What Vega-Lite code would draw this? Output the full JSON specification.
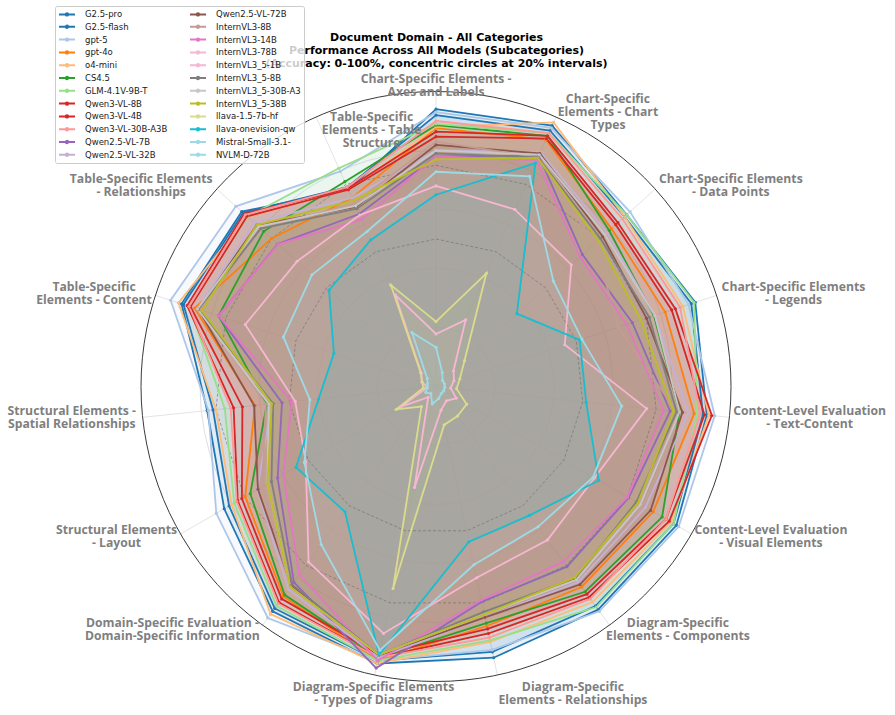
{
  "$schema": "https://vega.github.io/schema/vega-lite/v6.json",
  "width": 895,
  "height": 715,
  "autosize": {"type": "none"},
  "padding": 0,
  "background": "white",
  "config": {"view": {"stroke": null}},
  "title": {
    "text": ["Document Domain - All Categories", "Performance Across All Models (Subcategories)", "(Accuracy: 0-100%, concentric circles at 20% intervals)"],
    "font": "DejaVu Sans",
    "fontSize": 11,
    "fontWeight": "bold",
    "color": "#000000",
    "lineHeight": 13,
    "anchor": "middle",
    "frame": "group",
    "offset": -69,
    "dx": -11
  },
  "datasets": {
    "categories": [
      {"k": 0, "label": "Chart-Specific Elements -\nAxes and Labels"},
      {"k": 1, "label": "Chart-Specific\nElements - Chart\nTypes"},
      {"k": 2, "label": "Chart-Specific Elements\n- Data Points"},
      {"k": 3, "label": "Chart-Specific Elements\n- Legends"},
      {"k": 4, "label": "Content-Level Evaluation\n- Text-Content"},
      {"k": 5, "label": "Content-Level Evaluation\n- Visual Elements"},
      {"k": 6, "label": "Diagram-Specific\nElements - Components"},
      {"k": 7, "label": "Diagram-Specific\nElements - Relationships"},
      {"k": 8, "label": "Diagram-Specific Elements\n- Types of Diagrams"},
      {"k": 9, "label": "Domain-Specific Evaluation -\nDomain-Specific Information"},
      {"k": 10, "label": "Structural Elements\n- Layout"},
      {"k": 11, "label": "Structural Elements -\nSpatial Relationships"},
      {"k": 12, "label": "Table-Specific\nElements - Content"},
      {"k": 13, "label": "Table-Specific Elements\n- Relationships"},
      {"k": 14, "label": "Table-Specific\nElements - Table\nStructure"}
    ],
    "rings": [{"level": 20}, {"level": 40}, {"level": 60}, {"level": 80}, {"level": 100}],
    "refs": [
      {"level": 50, "k": 0}, {"level": 50, "k": 1}, {"level": 50, "k": 2}, {"level": 50, "k": 3}, {"level": 50, "k": 4},
      {"level": 50, "k": 5}, {"level": 50, "k": 6}, {"level": 50, "k": 7}, {"level": 50, "k": 8}, {"level": 50, "k": 9},
      {"level": 50, "k": 10}, {"level": 50, "k": 11}, {"level": 50, "k": 12}, {"level": 50, "k": 13}, {"level": 50, "k": 14},
      {"level": 75, "k": 0}, {"level": 75, "k": 1}, {"level": 75, "k": 2}, {"level": 75, "k": 3}, {"level": 75, "k": 4},
      {"level": 75, "k": 5}, {"level": 75, "k": 6}, {"level": 75, "k": 7}, {"level": 75, "k": 8}, {"level": 75, "k": 9},
      {"level": 75, "k": 10}, {"level": 75, "k": 11}, {"level": 75, "k": 12}, {"level": 75, "k": 13}, {"level": 75, "k": 14}
    ],
    "scores": [
      {"model":"G2.5-pro","k":0,"score":94},{"model":"G2.5-pro","k":1,"score":96.8},{"model":"G2.5-pro","k":2,"score":87},{"model":"G2.5-pro","k":3,"score":92.4},{"model":"G2.5-pro","k":4,"score":92.3},{"model":"G2.5-pro","k":5,"score":94.1},{"model":"G2.5-pro","k":6,"score":93.5},{"model":"G2.5-pro","k":7,"score":94},{"model":"G2.5-pro","k":8,"score":96},{"model":"G2.5-pro","k":9,"score":94.2},{"model":"G2.5-pro","k":10,"score":82.9},{"model":"G2.5-pro","k":11,"score":78},{"model":"G2.5-pro","k":12,"score":90.7},{"model":"G2.5-pro","k":13,"score":88.6},{"model":"G2.5-pro","k":14,"score":73},
      {"model":"G2.5-flash","k":0,"score":92},{"model":"G2.5-flash","k":1,"score":95},{"model":"G2.5-flash","k":2,"score":86},{"model":"G2.5-flash","k":3,"score":91},{"model":"G2.5-flash","k":4,"score":91},{"model":"G2.5-flash","k":5,"score":93},{"model":"G2.5-flash","k":6,"score":92},{"model":"G2.5-flash","k":7,"score":92},{"model":"G2.5-flash","k":8,"score":95},{"model":"G2.5-flash","k":9,"score":93},{"model":"G2.5-flash","k":10,"score":81},{"model":"G2.5-flash","k":11,"score":76},{"model":"G2.5-flash","k":12,"score":90},{"model":"G2.5-flash","k":13,"score":88},{"model":"G2.5-flash","k":14,"score":74},
      {"model":"gpt-5","k":0,"score":93},{"model":"gpt-5","k":1,"score":96},{"model":"gpt-5","k":2,"score":88.5},{"model":"gpt-5","k":3,"score":90},{"model":"gpt-5","k":4,"score":95},{"model":"gpt-5","k":5,"score":95},{"model":"gpt-5","k":6,"score":94.2},{"model":"gpt-5","k":7,"score":91.3},{"model":"gpt-5","k":8,"score":95},{"model":"gpt-5","k":9,"score":97},{"model":"gpt-5","k":10,"score":86},{"model":"gpt-5","k":11,"score":77.6},{"model":"gpt-5","k":12,"score":94.6},{"model":"gpt-5","k":13,"score":91.3},{"model":"gpt-5","k":14,"score":79.8},
      {"model":"gpt-4o","k":0,"score":87.6},{"model":"gpt-4o","k":1,"score":91.6},{"model":"gpt-4o","k":2,"score":80},{"model":"gpt-4o","k":3,"score":81.7},{"model":"gpt-4o","k":4,"score":88},{"model":"gpt-4o","k":5,"score":85},{"model":"gpt-4o","k":6,"score":84},{"model":"gpt-4o","k":7,"score":83},{"model":"gpt-4o","k":8,"score":95},{"model":"gpt-4o","k":9,"score":88},{"model":"gpt-4o","k":10,"score":74.7},{"model":"gpt-4o","k":11,"score":61.7},{"model":"gpt-4o","k":12,"score":86},{"model":"gpt-4o","k":13,"score":75},{"model":"gpt-4o","k":14,"score":70},
      {"model":"o4-mini","k":0,"score":88},{"model":"o4-mini","k":1,"score":98},{"model":"o4-mini","k":2,"score":86},{"model":"o4-mini","k":3,"score":88},{"model":"o4-mini","k":4,"score":93},{"model":"o4-mini","k":5,"score":92},{"model":"o4-mini","k":6,"score":90.3},{"model":"o4-mini","k":7,"score":88.5},{"model":"o4-mini","k":8,"score":96},{"model":"o4-mini","k":9,"score":95.4},{"model":"o4-mini","k":10,"score":80},{"model":"o4-mini","k":11,"score":75},{"model":"o4-mini","k":12,"score":91.8},{"model":"o4-mini","k":13,"score":86},{"model":"o4-mini","k":14,"score":73},
      {"model":"CS4.5","k":0,"score":88.6},{"model":"CS4.5","k":1,"score":93},{"model":"CS4.5","k":2,"score":79},{"model":"CS4.5","k":3,"score":77.7},{"model":"CS4.5","k":4,"score":83},{"model":"CS4.5","k":5,"score":88.5},{"model":"CS4.5","k":6,"score":86},{"model":"CS4.5","k":7,"score":82},{"model":"CS4.5","k":8,"score":94},{"model":"CS4.5","k":9,"score":87.3},{"model":"CS4.5","k":10,"score":72.7},{"model":"CS4.5","k":11,"score":57.7},{"model":"CS4.5","k":12,"score":77.5},{"model":"CS4.5","k":13,"score":78.6},{"model":"CS4.5","k":14,"score":76},
      {"model":"GLM-4.1V-9B-T","k":0,"score":89},{"model":"GLM-4.1V-9B-T","k":1,"score":94},{"model":"GLM-4.1V-9B-T","k":2,"score":87},{"model":"GLM-4.1V-9B-T","k":3,"score":92},{"model":"GLM-4.1V-9B-T","k":4,"score":89},{"model":"GLM-4.1V-9B-T","k":5,"score":93},{"model":"GLM-4.1V-9B-T","k":6,"score":92.4},{"model":"GLM-4.1V-9B-T","k":7,"score":88},{"model":"GLM-4.1V-9B-T","k":8,"score":95},{"model":"GLM-4.1V-9B-T","k":9,"score":92},{"model":"GLM-4.1V-9B-T","k":10,"score":79},{"model":"GLM-4.1V-9B-T","k":11,"score":72},{"model":"GLM-4.1V-9B-T","k":12,"score":88},{"model":"GLM-4.1V-9B-T","k":13,"score":86},{"model":"GLM-4.1V-9B-T","k":14,"score":81},
      {"model":"Qwen3-VL-8B","k":0,"score":86.4},{"model":"Qwen3-VL-8B","k":1,"score":93},{"model":"Qwen3-VL-8B","k":2,"score":83},{"model":"Qwen3-VL-8B","k":3,"score":85.3},{"model":"Qwen3-VL-8B","k":4,"score":94},{"model":"Qwen3-VL-8B","k":5,"score":91.3},{"model":"Qwen3-VL-8B","k":6,"score":88.3},{"model":"Qwen3-VL-8B","k":7,"score":85.6},{"model":"Qwen3-VL-8B","k":8,"score":94},{"model":"Qwen3-VL-8B","k":9,"score":90.5},{"model":"Qwen3-VL-8B","k":10,"score":77.6},{"model":"Qwen3-VL-8B","k":11,"score":69},{"model":"Qwen3-VL-8B","k":12,"score":88.7},{"model":"Qwen3-VL-8B","k":13,"score":87.5},{"model":"Qwen3-VL-8B","k":14,"score":73.5},
      {"model":"Qwen3-VL-4B","k":0,"score":84.7},{"model":"Qwen3-VL-4B","k":1,"score":92},{"model":"Qwen3-VL-4B","k":2,"score":82},{"model":"Qwen3-VL-4B","k":3,"score":84},{"model":"Qwen3-VL-4B","k":4,"score":91.5},{"model":"Qwen3-VL-4B","k":5,"score":90},{"model":"Qwen3-VL-4B","k":6,"score":87},{"model":"Qwen3-VL-4B","k":7,"score":84},{"model":"Qwen3-VL-4B","k":8,"score":93},{"model":"Qwen3-VL-4B","k":9,"score":89},{"model":"Qwen3-VL-4B","k":10,"score":76},{"model":"Qwen3-VL-4B","k":11,"score":66},{"model":"Qwen3-VL-4B","k":12,"score":87.5},{"model":"Qwen3-VL-4B","k":13,"score":86.2},{"model":"Qwen3-VL-4B","k":14,"score":73},
      {"model":"Qwen3-VL-30B-A3B","k":0,"score":90},{"model":"Qwen3-VL-30B-A3B","k":1,"score":94},{"model":"Qwen3-VL-30B-A3B","k":2,"score":85},{"model":"Qwen3-VL-30B-A3B","k":3,"score":87},{"model":"Qwen3-VL-30B-A3B","k":4,"score":90},{"model":"Qwen3-VL-30B-A3B","k":5,"score":90},{"model":"Qwen3-VL-30B-A3B","k":6,"score":89},{"model":"Qwen3-VL-30B-A3B","k":7,"score":87},{"model":"Qwen3-VL-30B-A3B","k":8,"score":94},{"model":"Qwen3-VL-30B-A3B","k":9,"score":91},{"model":"Qwen3-VL-30B-A3B","k":10,"score":78},{"model":"Qwen3-VL-30B-A3B","k":11,"score":70},{"model":"Qwen3-VL-30B-A3B","k":12,"score":88},{"model":"Qwen3-VL-30B-A3B","k":13,"score":87},{"model":"Qwen3-VL-30B-A3B","k":14,"score":74},
      {"model":"Qwen2.5-VL-7B","k":0,"score":78},{"model":"Qwen2.5-VL-7B","k":1,"score":85.7},{"model":"Qwen2.5-VL-7B","k":2,"score":66.8},{"model":"Qwen2.5-VL-7B","k":3,"score":70},{"model":"Qwen2.5-VL-7B","k":4,"score":79.8},{"model":"Qwen2.5-VL-7B","k":5,"score":75.4},{"model":"Qwen2.5-VL-7B","k":6,"score":75.5},{"model":"Qwen2.5-VL-7B","k":7,"score":74.6},{"model":"Qwen2.5-VL-7B","k":8,"score":97.6},{"model":"Qwen2.5-VL-7B","k":9,"score":82},{"model":"Qwen2.5-VL-7B","k":10,"score":62},{"model":"Qwen2.5-VL-7B","k":11,"score":52.5},{"model":"Qwen2.5-VL-7B","k":12,"score":77.5},{"model":"Qwen2.5-VL-7B","k":13,"score":72.2},{"model":"Qwen2.5-VL-7B","k":14,"score":64},
      {"model":"Qwen2.5-VL-32B","k":0,"score":80},{"model":"Qwen2.5-VL-32B","k":1,"score":87},{"model":"Qwen2.5-VL-32B","k":2,"score":78},{"model":"Qwen2.5-VL-32B","k":3,"score":78},{"model":"Qwen2.5-VL-32B","k":4,"score":86},{"model":"Qwen2.5-VL-32B","k":5,"score":82},{"model":"Qwen2.5-VL-32B","k":6,"score":82},{"model":"Qwen2.5-VL-32B","k":7,"score":80},{"model":"Qwen2.5-VL-32B","k":8,"score":94},{"model":"Qwen2.5-VL-32B","k":9,"score":85},{"model":"Qwen2.5-VL-32B","k":10,"score":70},{"model":"Qwen2.5-VL-32B","k":11,"score":56},{"model":"Qwen2.5-VL-32B","k":12,"score":85},{"model":"Qwen2.5-VL-32B","k":13,"score":83},{"model":"Qwen2.5-VL-32B","k":14,"score":70},
      {"model":"Qwen2.5-VL-72B","k":0,"score":81.9},{"model":"Qwen2.5-VL-72B","k":1,"score":86.5},{"model":"Qwen2.5-VL-72B","k":2,"score":76},{"model":"Qwen2.5-VL-72B","k":3,"score":75},{"model":"Qwen2.5-VL-72B","k":4,"score":84},{"model":"Qwen2.5-VL-72B","k":5,"score":84},{"model":"Qwen2.5-VL-72B","k":6,"score":83},{"model":"Qwen2.5-VL-72B","k":7,"score":80},{"model":"Qwen2.5-VL-72B","k":8,"score":93},{"model":"Qwen2.5-VL-72B","k":9,"score":83.5},{"model":"Qwen2.5-VL-72B","k":10,"score":69.7},{"model":"Qwen2.5-VL-72B","k":11,"score":62},{"model":"Qwen2.5-VL-72B","k":12,"score":84.7},{"model":"Qwen2.5-VL-72B","k":13,"score":81.8},{"model":"Qwen2.5-VL-72B","k":14,"score":66.6},
      {"model":"InternVL3-8B","k":0,"score":83},{"model":"InternVL3-8B","k":1,"score":85},{"model":"InternVL3-8B","k":2,"score":72.5},{"model":"InternVL3-8B","k":3,"score":65},{"model":"InternVL3-8B","k":4,"score":82},{"model":"InternVL3-8B","k":5,"score":80},{"model":"InternVL3-8B","k":6,"score":79},{"model":"InternVL3-8B","k":7,"score":79},{"model":"InternVL3-8B","k":8,"score":93},{"model":"InternVL3-8B","k":9,"score":84},{"model":"InternVL3-8B","k":10,"score":68},{"model":"InternVL3-8B","k":11,"score":58},{"model":"InternVL3-8B","k":12,"score":84},{"model":"InternVL3-8B","k":13,"score":80},{"model":"InternVL3-8B","k":14,"score":68},
      {"model":"InternVL3-14B","k":0,"score":78},{"model":"InternVL3-14B","k":1,"score":84},{"model":"InternVL3-14B","k":2,"score":65.7},{"model":"InternVL3-14B","k":3,"score":68},{"model":"InternVL3-14B","k":4,"score":77.6},{"model":"InternVL3-14B","k":5,"score":75},{"model":"InternVL3-14B","k":6,"score":73.4},{"model":"InternVL3-14B","k":7,"score":74},{"model":"InternVL3-14B","k":8,"score":95},{"model":"InternVL3-14B","k":9,"score":78.8},{"model":"InternVL3-14B","k":10,"score":59.8},{"model":"InternVL3-14B","k":11,"score":49.2},{"model":"InternVL3-14B","k":12,"score":77.5},{"model":"InternVL3-14B","k":13,"score":72},{"model":"InternVL3-14B","k":14,"score":62},
      {"model":"InternVL3-78B","k":0,"score":68},{"model":"InternVL3-78B","k":1,"score":65.7},{"model":"InternVL3-78B","k":2,"score":61.7},{"model":"InternVL3-78B","k":3,"score":45.9},{"model":"InternVL3-78B","k":4,"score":71.8},{"model":"InternVL3-78B","k":5,"score":62},{"model":"InternVL3-78B","k":6,"score":64.3},{"model":"InternVL3-78B","k":7,"score":66.3},{"model":"InternVL3-78B","k":8,"score":85.6},{"model":"InternVL3-78B","k":9,"score":73.5},{"model":"InternVL3-78B","k":10,"score":51},{"model":"InternVL3-78B","k":11,"score":48},{"model":"InternVL3-78B","k":12,"score":68},{"model":"InternVL3-78B","k":13,"score":63.4},{"model":"InternVL3-78B","k":14,"score":63.6},
      {"model":"InternVL3_5-1B","k":0,"score":17.8},{"model":"InternVL3_5-1B","k":1,"score":24.7},{"model":"InternVL3_5-1B","k":2,"score":8},{"model":"InternVL3_5-1B","k":3,"score":6.4},{"model":"InternVL3_5-1B","k":4,"score":5},{"model":"InternVL3_5-1B","k":5,"score":7.9},{"model":"InternVL3_5-1B","k":6,"score":6},{"model":"InternVL3_5-1B","k":7,"score":8.2},{"model":"InternVL3_5-1B","k":8,"score":35},{"model":"InternVL3_5-1B","k":9,"score":4.5},{"model":"InternVL3_5-1B","k":10,"score":13.7},{"model":"InternVL3_5-1B","k":11,"score":3},{"model":"InternVL3_5-1B","k":12,"score":5},{"model":"InternVL3_5-1B","k":13,"score":6.7},{"model":"InternVL3_5-1B","k":14,"score":34},
      {"model":"InternVL3_5-8B","k":0,"score":79},{"model":"InternVL3_5-8B","k":1,"score":85},{"model":"InternVL3_5-8B","k":2,"score":75},{"model":"InternVL3_5-8B","k":3,"score":76},{"model":"InternVL3_5-8B","k":4,"score":82},{"model":"InternVL3_5-8B","k":5,"score":78.4},{"model":"InternVL3_5-8B","k":6,"score":80.3},{"model":"InternVL3_5-8B","k":7,"score":78.1},{"model":"InternVL3_5-8B","k":8,"score":93},{"model":"InternVL3_5-8B","k":9,"score":83},{"model":"InternVL3_5-8B","k":10,"score":64.4},{"model":"InternVL3_5-8B","k":11,"score":55.5},{"model":"InternVL3_5-8B","k":12,"score":84.7},{"model":"InternVL3_5-8B","k":13,"score":80},{"model":"InternVL3_5-8B","k":14,"score":66},
      {"model":"InternVL3_5-30B-A3","k":0,"score":80},{"model":"InternVL3_5-30B-A3","k":1,"score":86},{"model":"InternVL3_5-30B-A3","k":2,"score":77},{"model":"InternVL3_5-30B-A3","k":3,"score":78},{"model":"InternVL3_5-30B-A3","k":4,"score":83},{"model":"InternVL3_5-30B-A3","k":5,"score":80},{"model":"InternVL3_5-30B-A3","k":6,"score":81},{"model":"InternVL3_5-30B-A3","k":7,"score":79},{"model":"InternVL3_5-30B-A3","k":8,"score":93},{"model":"InternVL3_5-30B-A3","k":9,"score":84},{"model":"InternVL3_5-30B-A3","k":10,"score":66},{"model":"InternVL3_5-30B-A3","k":11,"score":57},{"model":"InternVL3_5-30B-A3","k":12,"score":85},{"model":"InternVL3_5-30B-A3","k":13,"score":81},{"model":"InternVL3_5-30B-A3","k":14,"score":67},
      {"model":"InternVL3_5-38B","k":0,"score":77},{"model":"InternVL3_5-38B","k":1,"score":84.8},{"model":"InternVL3_5-38B","k":2,"score":74},{"model":"InternVL3_5-38B","k":3,"score":73},{"model":"InternVL3_5-38B","k":4,"score":81},{"model":"InternVL3_5-38B","k":5,"score":79},{"model":"InternVL3_5-38B","k":6,"score":80},{"model":"InternVL3_5-38B","k":7,"score":79},{"model":"InternVL3_5-38B","k":8,"score":93},{"model":"InternVL3_5-38B","k":9,"score":84},{"model":"InternVL3_5-38B","k":10,"score":66},{"model":"InternVL3_5-38B","k":11,"score":56},{"model":"InternVL3_5-38B","k":12,"score":83.4},{"model":"InternVL3_5-38B","k":13,"score":81.8},{"model":"InternVL3_5-38B","k":14,"score":69},
      {"model":"llava-1.5-7b-hf","k":0,"score":22},{"model":"llava-1.5-7b-hf","k":1,"score":42},{"model":"llava-1.5-7b-hf","k":2,"score":13},{"model":"llava-1.5-7b-hf","k":3,"score":8.5},{"model":"llava-1.5-7b-hf","k":4,"score":7},{"model":"llava-1.5-7b-hf","k":5,"score":12},{"model":"llava-1.5-7b-hf","k":6,"score":12.4},{"model":"llava-1.5-7b-hf","k":7,"score":13.3},{"model":"llava-1.5-7b-hf","k":8,"score":70},{"model":"llava-1.5-7b-hf","k":9,"score":8.4},{"model":"llava-1.5-7b-hf","k":10,"score":15.5},{"model":"llava-1.5-7b-hf","k":11,"score":4.3},{"model":"llava-1.5-7b-hf","k":12,"score":5},{"model":"llava-1.5-7b-hf","k":13,"score":7},{"model":"llava-1.5-7b-hf","k":14,"score":37.6},
      {"model":"llava-onevision-qw","k":0,"score":65},{"model":"llava-onevision-qw","k":1,"score":82.9},{"model":"llava-onevision-qw","k":2,"score":36.9},{"model":"llava-onevision-qw","k":3,"score":51.2},{"model":"llava-onevision-qw","k":4,"score":51.2},{"model":"llava-onevision-qw","k":5,"score":63.7},{"model":"llava-onevision-qw","k":6,"score":54},{"model":"llava-onevision-qw","k":7,"score":53.8},{"model":"llava-onevision-qw","k":8,"score":93},{"model":"llava-onevision-qw","k":9,"score":52.5},{"model":"llava-onevision-qw","k":10,"score":54.8},{"model":"llava-onevision-qw","k":11,"score":40},{"model":"llava-onevision-qw","k":12,"score":36.4},{"model":"llava-onevision-qw","k":13,"score":48.8},{"model":"llava-onevision-qw","k":14,"score":54.4},
      {"model":"Mistral-Small-3.1-","k":0,"score":72.8},{"model":"Mistral-Small-3.1-","k":1,"score":78},{"model":"Mistral-Small-3.1-","k":2,"score":53.5},{"model":"Mistral-Small-3.1-","k":3,"score":52},{"model":"Mistral-Small-3.1-","k":4,"score":63.3},{"model":"Mistral-Small-3.1-","k":5,"score":61.5},{"model":"Mistral-Small-3.1-","k":6,"score":58.8},{"model":"Mistral-Small-3.1-","k":7,"score":61.8},{"model":"Mistral-Small-3.1-","k":8,"score":91.4},{"model":"Mistral-Small-3.1-","k":9,"score":66.2},{"model":"Mistral-Small-3.1-","k":10,"score":51.5},{"model":"Mistral-Small-3.1-","k":11,"score":43},{"model":"Mistral-Small-3.1-","k":12,"score":54.4},{"model":"Mistral-Small-3.1-","k":13,"score":56.6},{"model":"Mistral-Small-3.1-","k":14,"score":57.5},
      {"model":"NVLM-D-72B","k":0,"score":13.3},{"model":"NVLM-D-72B","k":1,"score":5.2},{"model":"NVLM-D-72B","k":2,"score":3},{"model":"NVLM-D-72B","k":3,"score":3},{"model":"NVLM-D-72B","k":4,"score":3},{"model":"NVLM-D-72B","k":5,"score":3},{"model":"NVLM-D-72B","k":6,"score":3},{"model":"NVLM-D-72B","k":7,"score":4.2},{"model":"NVLM-D-72B","k":8,"score":6},{"model":"NVLM-D-72B","k":9,"score":3},{"model":"NVLM-D-72B","k":10,"score":4},{"model":"NVLM-D-72B","k":11,"score":3},{"model":"NVLM-D-72B","k":12,"score":3},{"model":"NVLM-D-72B","k":13,"score":4},{"model":"NVLM-D-72B","k":14,"score":20}
    ]
  },
  "layer": [
    {
      "data": {"name": "rings"},
      "transform": [{"filter": "datum.level < 100"}, {"calculate": "0", "as": "o"}],
      "mark": {"type": "point", "shape": "circle", "filled": false, "stroke": "#d6d6d6", "strokeWidth": 0.8, "opacity": 1},
      "encoding": {
        "x": {"field": "o", "type": "quantitative", "scale": {"domain": [-1.478, 1.5559], "nice": false, "zero": false}, "axis": null},
        "y": {"field": "o", "type": "quantitative", "scale": {"domain": [-1.1136, 1.3102], "nice": false, "zero": false}, "axis": null},
        "size": {"field": "level", "type": "quantitative", "legend": null, "scale": {"type": "pow", "exponent": 2, "domain": [0, 100], "range": [0, 348100]}}
      }
    },
    {
      "data": {"name": "categories"},
      "transform": [
        {"calculate": "0", "as": "o"},
        {"calculate": "2 * PI * datum.k / 15", "as": "t"},
        {"calculate": "sin(datum.t)", "as": "sx"},
        {"calculate": "cos(datum.t)", "as": "sy"}
      ],
      "mark": {"type": "rule", "stroke": "#dcdcdc", "strokeWidth": 0.8},
      "encoding": {
        "x": {"field": "o", "type": "quantitative", "scale": {"domain": [-1.478, 1.5559], "nice": false, "zero": false}, "axis": null},
        "y": {"field": "o", "type": "quantitative", "scale": {"domain": [-1.1136, 1.3102], "nice": false, "zero": false}, "axis": null},
        "x2": {"field": "sx"},
        "y2": {"field": "sy"}
      }
    },
    {
      "data": {"name": "scores"},
      "transform": [
        {"calculate": "2 * PI * datum.k / 15", "as": "t"},
        {"calculate": "datum.score / 100 * sin(datum.t)", "as": "px"},
        {"calculate": "datum.score / 100 * cos(datum.t)", "as": "py"}
      ],
      "mark": {"type": "line", "interpolate": "linear-closed", "strokeOpacity": 0, "fillOpacity": 0.1},
      "encoding": {
        "x": {"field": "px", "type": "quantitative", "scale": {"domain": [-1.478, 1.5559], "nice": false, "zero": false}, "axis": null},
        "y": {"field": "py", "type": "quantitative", "scale": {"domain": [-1.1136, 1.3102], "nice": false, "zero": false}, "axis": null},
        "order": {"field": "k", "type": "quantitative"},
        "detail": {"field": "model", "type": "nominal"},
        "fill": {
          "field": "model", "type": "nominal", "legend": null,
          "scale": {
            "domain": ["NVLM-D-72B","Mistral-Small-3.1-","llava-onevision-qw","llava-1.5-7b-hf","InternVL3_5-38B","InternVL3_5-30B-A3","InternVL3_5-8B","InternVL3_5-1B","InternVL3-78B","InternVL3-14B","InternVL3-8B","Qwen2.5-VL-72B","Qwen2.5-VL-32B","Qwen2.5-VL-7B","Qwen3-VL-30B-A3B","Qwen3-VL-4B","Qwen3-VL-8B","GLM-4.1V-9B-T","CS4.5","o4-mini","gpt-4o","gpt-5","G2.5-flash","G2.5-pro"],
            "range": ["#9edae5","#9edae5","#17becf","#dbdb8d","#bcbd22","#c7c7c7","#7f7f7f","#f7b6d2","#f7b6d2","#e377c2","#c49c94","#8c564b","#c5b0d5","#9467bd","#ff9896","#d62728","#d62728","#98df8a","#2ca02c","#ffbb78","#ff7f0e","#aec7e8","#1f77b4","#1f77b4"]
          }
        }
      }
    },
    {
      "data": {"name": "refs"},
      "transform": [
        {"calculate": "2 * PI * datum.k / 15", "as": "t"},
        {"calculate": "datum.level / 100 * sin(datum.t)", "as": "px"},
        {"calculate": "datum.level / 100 * cos(datum.t)", "as": "py"}
      ],
      "mark": {"type": "line", "interpolate": "linear-closed", "stroke": "#6e6e6e", "strokeWidth": 0.9, "strokeDash": [3, 2], "opacity": 0.7},
      "encoding": {
        "x": {"field": "px", "type": "quantitative", "scale": {"domain": [-1.478, 1.5559], "nice": false, "zero": false}, "axis": null},
        "y": {"field": "py", "type": "quantitative", "scale": {"domain": [-1.1136, 1.3102], "nice": false, "zero": false}, "axis": null},
        "order": {"field": "k", "type": "quantitative"},
        "detail": {"field": "level", "type": "nominal"}
      }
    },
    {
      "data": {"name": "scores"},
      "transform": [
        {"calculate": "2 * PI * datum.k / 15", "as": "t"},
        {"calculate": "datum.score / 100 * sin(datum.t)", "as": "px"},
        {"calculate": "datum.score / 100 * cos(datum.t)", "as": "py"}
      ],
      "mark": {"type": "line", "interpolate": "linear-closed", "strokeWidth": 1.8},
      "encoding": {
        "x": {"field": "px", "type": "quantitative", "scale": {"domain": [-1.478, 1.5559], "nice": false, "zero": false}, "axis": null},
        "y": {"field": "py", "type": "quantitative", "scale": {"domain": [-1.1136, 1.3102], "nice": false, "zero": false}, "axis": null},
        "order": {"field": "k", "type": "quantitative"},
        "stroke": {
          "field": "model", "type": "nominal",
          "scale": {
            "domain": ["G2.5-pro","G2.5-flash","gpt-5","gpt-4o","o4-mini","CS4.5","GLM-4.1V-9B-T","Qwen3-VL-8B","Qwen3-VL-4B","Qwen3-VL-30B-A3B","Qwen2.5-VL-7B","Qwen2.5-VL-32B","Qwen2.5-VL-72B","InternVL3-8B","InternVL3-14B","InternVL3-78B","InternVL3_5-1B","InternVL3_5-8B","InternVL3_5-30B-A3","InternVL3_5-38B","llava-1.5-7b-hf","llava-onevision-qw","Mistral-Small-3.1-","NVLM-D-72B"],
            "range": ["#1f77b4","#1f77b4","#aec7e8","#ff7f0e","#ffbb78","#2ca02c","#98df8a","#d62728","#d62728","#ff9896","#9467bd","#c5b0d5","#8c564b","#c49c94","#e377c2","#f7b6d2","#f7b6d2","#7f7f7f","#c7c7c7","#bcbd22","#dbdb8d","#17becf","#9edae5","#9edae5"]
          },
          "legend": {
            "orient": "none", "legendX": 55, "legendY": 6, "columns": 2, "title": null,
            "symbolType": "M-1,0H3M1.3,0A0.3,0.3,0,1,1,0.7,0A0.3,0.3,0,1,1,1.3,0",
            "symbolSize": 64, "symbolStrokeWidth": 2,
            "labelFont": "DejaVu Sans", "labelFontSize": 8.5, "labelColor": "#1a1a1a", "labelOffset": 17, "labelLimit": 200,
            "fillColor": "rgba(255,255,255,0.8)", "strokeColor": "#cccccc", "cornerRadius": 2,
            "padding": 3, "rowPadding": 0.8, "columnPadding": 18, "zindex": 1
          }
        }
      }
    },
    {
      "data": {"name": "scores"},
      "transform": [
        {"calculate": "2 * PI * datum.k / 15", "as": "t"},
        {"calculate": "datum.score / 100 * sin(datum.t)", "as": "px"},
        {"calculate": "datum.score / 100 * cos(datum.t)", "as": "py"}
      ],
      "mark": {"type": "point", "filled": true, "size": 10, "opacity": 1},
      "encoding": {
        "x": {"field": "px", "type": "quantitative", "scale": {"domain": [-1.478, 1.5559], "nice": false, "zero": false}, "axis": null},
        "y": {"field": "py", "type": "quantitative", "scale": {"domain": [-1.1136, 1.3102], "nice": false, "zero": false}, "axis": null},
        "fill": {"field": "model", "type": "nominal", "legend": null}
      }
    },
    {
      "data": {"name": "rings"},
      "transform": [{"filter": "datum.level == 100"}, {"calculate": "0", "as": "o"}],
      "mark": {"type": "point", "shape": "circle", "filled": false, "stroke": "#3a3a3a", "strokeWidth": 1, "opacity": 1},
      "encoding": {
        "x": {"field": "o", "type": "quantitative", "scale": {"domain": [-1.478, 1.5559], "nice": false, "zero": false}, "axis": null},
        "y": {"field": "o", "type": "quantitative", "scale": {"domain": [-1.1136, 1.3102], "nice": false, "zero": false}, "axis": null},
        "size": {"field": "level", "type": "quantitative", "legend": null, "scale": {"type": "pow", "exponent": 2, "domain": [0, 100], "range": [0, 348100]}}
      }
    },
    {
      "data": {"name": "categories"},
      "transform": [
        {"calculate": "2 * PI * datum.k / 15", "as": "t"},
        {"calculate": "sin(datum.t)", "as": "s"},
        {"calculate": "cos(datum.t)", "as": "c"},
        {"calculate": "split(datum.label, '\\n')", "as": "lines"},
        {"calculate": "length(datum.lines)", "as": "n"},
        {"calculate": "max(length(datum.lines[0]), datum.n > 1 ? length(datum.lines[1]) : 0, datum.n > 2 ? length(datum.lines[2]) : 0) * 0.021", "as": "w"},
        {"calculate": "abs(datum.s) < 0.1 || (datum.s < 0 && datum.c < -0.9) ? 0 : (datum.s > 0 || datum.c > 0.9 ? 1 : -1)", "as": "side"},
        {"calculate": "datum.side * datum.s < 0 ? 0.95 : 1.02", "as": "lr"},
        {"calculate": "datum.lr * datum.s + datum.side * datum.w / 2", "as": "lx"},
        {"calculate": "datum.lr * datum.c - (datum.c < -0.9 ? datum.n * 0.02203 : 0)", "as": "cy"},
        {"calculate": "datum.cy + (datum.n - 1) * 0.02203", "as": "ly"}
      ],
      "mark": {"type": "text", "align": "center", "baseline": "middle", "font": "Open Sans", "fontWeight": "bold", "fontSize": 12.2, "lineHeight": 13, "lineBreak": "\n", "color": "#7f7f7f"},
      "encoding": {
        "x": {"field": "lx", "type": "quantitative", "scale": {"domain": [-1.478, 1.5559], "nice": false, "zero": false}, "axis": null},
        "y": {"field": "ly", "type": "quantitative", "scale": {"domain": [-1.1136, 1.3102], "nice": false, "zero": false}, "axis": null},
        "text": {"field": "label", "type": "nominal"}
      }
    }
  ]
}
